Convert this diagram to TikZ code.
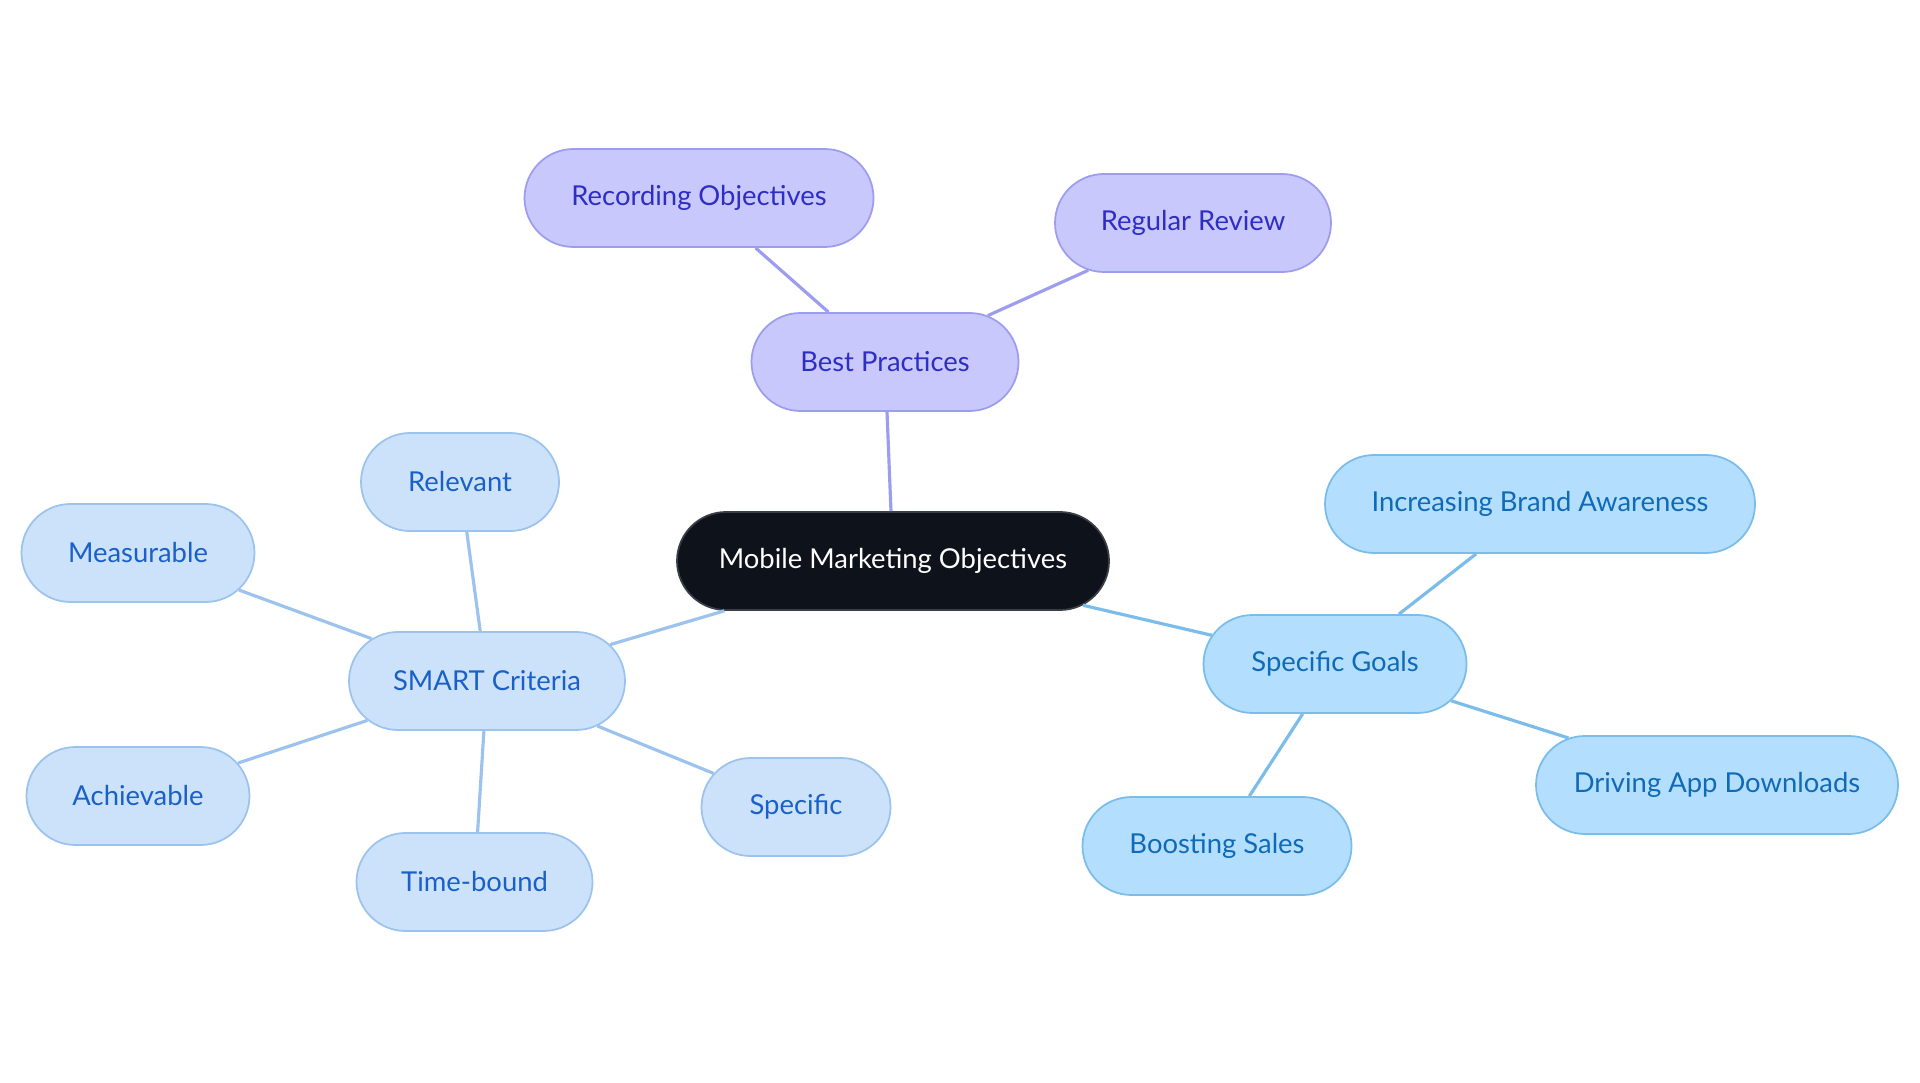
\documentclass[tikz,border=0pt]{standalone}
\usepackage{fontspec}
\setmainfont{Lato}
\usetikzlibrary{shapes.misc}
\definecolor{rootfill}{HTML}{0D121B}
\definecolor{rootline}{HTML}{3A3F47}
\definecolor{bestfill}{HTML}{C8C8FC}
\definecolor{bestline}{HTML}{9D9DF0}
\definecolor{besttext}{HTML}{2E2EC4}
\definecolor{smartfill}{HTML}{CCE2FA}
\definecolor{smartline}{HTML}{9CC3EE}
\definecolor{smarttext}{HTML}{1A60C8}
\definecolor{goalfill}{HTML}{B4DEFD}
\definecolor{goalline}{HTML}{7ABDEB}
\definecolor{goaltext}{HTML}{0F6BB8}
\tikzset{
    pill/.style={rounded rectangle, minimum height=0.98cm,
        line width=0.5pt, font=\fontsize{7.8}{9}\selectfont, inner sep=0pt},
    rootnode/.style={pill, fill=rootfill, draw=rootline, text=white},
    bestnode/.style={pill, fill=bestfill, draw=bestline, text=besttext},
    smartnode/.style={pill, fill=smartfill, draw=smartline, text=smarttext},
    goalnode/.style={pill, fill=goalfill, draw=goalline, text=goaltext},
    bestlink/.style={draw=bestline, line width=0.9pt},
    smartlink/.style={draw=smartline, line width=0.9pt},
    goallink/.style={draw=goalline, line width=0.9pt},
}
\begin{document}
\begin{tikzpicture}
    \useasboundingbox[fill=white] (0,0) rectangle (19.2,-10.83);
    %% root
    \node[rootnode, minimum width=4.32cm] (root) at (8.93,-5.61) {Mobile Marketing Objectives};
    %% best practices
    \node[bestnode, minimum width=2.67cm] (best) at (8.85,-3.62) {Best Practices};
    \node[bestnode, minimum width=3.49cm] (record) at (6.99,-1.98) {Recording Objectives};
    \node[bestnode, minimum width=2.76cm] (review) at (11.93,-2.23) {Regular Review};
    %% smart criteria
    \node[smartnode, minimum width=2.76cm] (smart) at (4.87,-6.81) {SMART Criteria};
    \node[smartnode, minimum width=1.98cm] (relevant) at (4.60,-4.82) {Relevant};
    \node[smartnode, minimum width=2.33cm] (measurable) at (1.38,-5.53) {Measurable};
    \node[smartnode, minimum width=2.23cm] (achievable) at (1.38,-7.96) {Achievable};
    \node[smartnode, minimum width=2.36cm] (timebound) at (4.745,-8.82) {Time-bound};
    \node[smartnode, minimum width=1.89cm] (specific) at (7.96,-8.07) {Specific};
    %% specific goals
    \node[goalnode, minimum width=2.63cm] (goals) at (13.35,-6.64) {Specific Goals};
    \node[goalnode, minimum width=4.30cm] (brand) at (15.40,-5.04) {Increasing Brand Awareness};
    \node[goalnode, minimum width=3.62cm] (downloads) at (17.17,-7.85) {Driving App Downloads};
    \node[goalnode, minimum width=2.69cm] (sales) at (12.17,-8.46) {Boosting Sales};
    %% links
    \draw[bestlink] (root) -- (best);
    \draw[bestlink] (best) -- (record);
    \draw[bestlink] (best) -- (review);
    \draw[smartlink] (root) -- (smart);
    \foreach \leaf in {relevant,measurable,achievable,timebound,specific} {
        \draw[smartlink] (smart) -- (\leaf);
    }
    \draw[goallink] (root) -- (goals);
    \foreach \leaf in {brand,downloads,sales} {
        \draw[goallink] (goals) -- (\leaf);
    }
\end{tikzpicture}
\end{document}
